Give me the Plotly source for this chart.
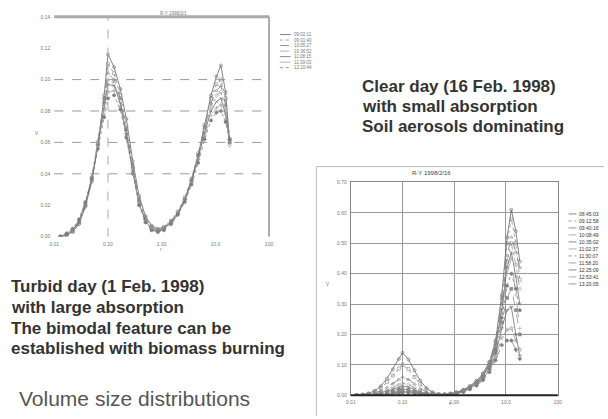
import plotly.graph_objects as go

# ---- data -------------------------------------------------------------
radius = [0.013, 0.017, 0.022, 0.029, 0.038, 0.05, 0.065, 0.085, 0.1, 0.13,
          0.17, 0.22, 0.29, 0.38, 0.5, 0.65, 0.85, 1.1, 1.5, 2.0,
          2.7, 3.6, 4.8, 6.3, 8.3, 10.5, 12.7, 15.5, 18.5]

# turbid day, 1 Feb 1998
left_labels = ["09:02:11", "09:31:40", "10:05:27", "10:36:52",
               "11:08:15", "11:39:03", "12:10:44"]
turbid_1 = [0.000, 0.001, 0.003, 0.008, 0.019, 0.035, 0.058, 0.090, 0.116, 0.108,
            0.094, 0.075, 0.048, 0.026, 0.013, 0.007, 0.005, 0.006, 0.010, 0.015,
            0.024, 0.036, 0.052, 0.070, 0.090, 0.102, 0.109, 0.092, 0.060]
turbid_2 = [0.000, 0.001, 0.004, 0.009, 0.020, 0.037, 0.060, 0.088, 0.110, 0.104,
            0.090, 0.070, 0.045, 0.024, 0.012, 0.006, 0.004, 0.006, 0.010, 0.016,
            0.025, 0.037, 0.053, 0.071, 0.088, 0.097, 0.100, 0.088, 0.062]
turbid_3 = [0.000, 0.001, 0.003, 0.009, 0.020, 0.036, 0.059, 0.086, 0.104, 0.100,
            0.088, 0.068, 0.044, 0.023, 0.011, 0.006, 0.004, 0.005, 0.009, 0.015,
            0.024, 0.036, 0.052, 0.069, 0.085, 0.093, 0.096, 0.084, 0.060]
turbid_4 = [0.000, 0.002, 0.004, 0.010, 0.021, 0.038, 0.060, 0.085, 0.100, 0.098,
            0.086, 0.066, 0.042, 0.022, 0.011, 0.005, 0.004, 0.005, 0.009, 0.015,
            0.024, 0.035, 0.051, 0.068, 0.083, 0.090, 0.092, 0.080, 0.058]
turbid_5 = [0.000, 0.001, 0.004, 0.010, 0.021, 0.037, 0.058, 0.082, 0.097, 0.096,
            0.085, 0.065, 0.041, 0.021, 0.010, 0.005, 0.003, 0.005, 0.009, 0.014,
            0.023, 0.035, 0.050, 0.066, 0.080, 0.086, 0.088, 0.078, 0.060]
turbid_6 = [0.000, 0.002, 0.005, 0.011, 0.022, 0.038, 0.058, 0.080, 0.092, 0.093,
            0.083, 0.064, 0.041, 0.021, 0.010, 0.005, 0.003, 0.005, 0.008, 0.014,
            0.023, 0.034, 0.049, 0.064, 0.077, 0.082, 0.084, 0.075, 0.061]
turbid_7 = [0.000, 0.002, 0.005, 0.011, 0.022, 0.037, 0.056, 0.076, 0.088, 0.090,
            0.081, 0.063, 0.040, 0.020, 0.009, 0.004, 0.003, 0.004, 0.008, 0.014,
            0.022, 0.033, 0.047, 0.062, 0.074, 0.079, 0.080, 0.073, 0.062]
left_series = [turbid_1, turbid_2, turbid_3, turbid_4, turbid_5, turbid_6, turbid_7]

# clear day, 16 Feb 1998
right_labels = ["08:45:03", "09:12:58", "09:40:16", "10:08:49", "10:35:02",
                "11:02:37", "11:30:07", "11:58:20", "12:25:09", "12:53:41",
                "13:20:05"]
clear_1 = [0.000, 0.002, 0.006, 0.015, 0.030, 0.055, 0.085, 0.120, 0.140, 0.118,
           0.082, 0.048, 0.024, 0.010, 0.004, 0.003, 0.006, 0.010, 0.018, 0.030,
           0.048, 0.072, 0.110, 0.180, 0.330, 0.520, 0.610, 0.540, 0.440]
clear_2 = [0.000, 0.002, 0.005, 0.012, 0.024, 0.043, 0.065, 0.088, 0.100, 0.086,
           0.060, 0.036, 0.018, 0.008, 0.003, 0.002, 0.005, 0.009, 0.017, 0.029,
           0.046, 0.070, 0.108, 0.175, 0.320, 0.500, 0.580, 0.500, 0.380]
clear_3 = [0.000, 0.001, 0.003, 0.008, 0.015, 0.026, 0.039, 0.052, 0.060, 0.052,
           0.037, 0.022, 0.011, 0.005, 0.002, 0.002, 0.004, 0.009, 0.017, 0.028,
           0.045, 0.068, 0.105, 0.170, 0.300, 0.460, 0.520, 0.470, 0.420]
clear_4 = [0.000, 0.001, 0.002, 0.005, 0.010, 0.017, 0.026, 0.035, 0.040, 0.035,
           0.025, 0.015, 0.008, 0.003, 0.002, 0.002, 0.004, 0.008, 0.016, 0.027,
           0.044, 0.066, 0.102, 0.165, 0.290, 0.440, 0.500, 0.430, 0.350]
clear_5 = [0.000, 0.001, 0.002, 0.004, 0.008, 0.013, 0.020, 0.026, 0.030, 0.027,
           0.019, 0.011, 0.006, 0.003, 0.001, 0.002, 0.004, 0.008, 0.015, 0.026,
           0.042, 0.064, 0.098, 0.160, 0.280, 0.420, 0.470, 0.390, 0.300]
clear_6 = [0.000, 0.000, 0.001, 0.003, 0.006, 0.011, 0.016, 0.022, 0.025, 0.022,
           0.016, 0.010, 0.005, 0.002, 0.001, 0.002, 0.004, 0.008, 0.015, 0.025,
           0.041, 0.062, 0.095, 0.155, 0.270, 0.400, 0.450, 0.330, 0.220]
clear_7 = [0.000, 0.000, 0.001, 0.002, 0.005, 0.009, 0.013, 0.018, 0.020, 0.018,
           0.013, 0.008, 0.004, 0.002, 0.001, 0.002, 0.003, 0.007, 0.014, 0.024,
           0.040, 0.060, 0.092, 0.150, 0.255, 0.360, 0.400, 0.350, 0.280]
clear_8 = [0.000, 0.000, 0.001, 0.002, 0.004, 0.007, 0.010, 0.013, 0.015, 0.013,
           0.010, 0.006, 0.003, 0.001, 0.001, 0.002, 0.003, 0.007, 0.013, 0.023,
           0.038, 0.057, 0.088, 0.142, 0.240, 0.320, 0.350, 0.280, 0.200]
clear_9 = [0.000, 0.000, 0.001, 0.002, 0.003, 0.005, 0.008, 0.011, 0.012, 0.011,
           0.008, 0.005, 0.002, 0.001, 0.001, 0.001, 0.003, 0.006, 0.012, 0.022,
           0.036, 0.055, 0.084, 0.135, 0.220, 0.280, 0.290, 0.200, 0.130]
clear_10 = [0.000, 0.000, 0.001, 0.001, 0.003, 0.004, 0.006, 0.009, 0.010, 0.009,
            0.006, 0.004, 0.002, 0.001, 0.001, 0.001, 0.003, 0.006, 0.012, 0.021,
            0.034, 0.052, 0.080, 0.125, 0.190, 0.215, 0.220, 0.180, 0.150]
clear_11 = [0.000, 0.000, 0.000, 0.001, 0.002, 0.003, 0.005, 0.007, 0.008, 0.007,
            0.005, 0.003, 0.002, 0.001, 0.000, 0.001, 0.003, 0.005, 0.011, 0.020,
            0.032, 0.050, 0.076, 0.115, 0.165, 0.180, 0.180, 0.150, 0.120]
right_series = [clear_1, clear_2, clear_3, clear_4, clear_5, clear_6, clear_7,
                clear_8, clear_9, clear_10, clear_11]

left_title = "R-Y 1998/2/1"
right_title = "R-Y 1998/2/16"
x_tick_vals = [0.01, 0.1, 1, 10, 100]
x_tick_text = ["0.01", "0.10", "1.00", "10.0", "100"]
left_y_ticks = [0, 0.02, 0.04, 0.06, 0.08, 0.10, 0.12, 0.14]
left_y_text = ["0.00", "0.02", "0.04", "0.06", "0.08", "0.10", "0.12", "0.14"]
left_dashed_levels = [0.04, 0.06, 0.08, 0.10]
right_y_ticks = [0, 0.1, 0.2, 0.3, 0.4, 0.5, 0.6, 0.7]
right_y_text = ["0.00", "0.10", "0.20", "0.30", "0.40", "0.50", "0.60", "0.70"]

clear_notes = ["Clear day (16 Feb. 1998)", "with small absorption",
               "Soil aerosols dominating"]
turbid_notes = ["Turbid day (1 Feb. 1998)", "with large absorption",
                "The bimodal feature can be", "established with biomass burning"]
caption = "Volume size distributions"

# ---- styling ----------------------------------------------------------
W, H = 608, 419
FONT = "Liberation Sans, Arial, sans-serif"


def fx(px):
    return px / W


def fy(py):
    return 1 - py / H


greys = ["#666", "#888", "#777", "#999", "#6e6e6e", "#a0a0a0", "#7c7c7c",
         "#8c8c8c", "#707070", "#9a9a9a", "#808080"]
dashes = ["solid", "dot", "dash", "dashdot", "solid", "longdash", "dot",
          "dash", "solid", "dashdot", "longdash"]
symbols = ["circle-open", "square-open", "triangle-up-open", "diamond-open",
           "x-thin-open", "cross-thin-open", "circle", "square", "triangle-down-open",
           "star-open", "diamond"]

fig = go.Figure()

for i, vals in enumerate(left_series):
    fig.add_trace(go.Scatter(
        x=radius, y=vals, xaxis="x", yaxis="y", mode="lines+markers",
        name=left_labels[i], showlegend=False,
        line=dict(color=greys[i], width=0.8, dash=dashes[i]),
        marker=dict(symbol=symbols[i], size=3, color=greys[i],
                    line=dict(width=0.6, color=greys[i])),
    ))

for i, vals in enumerate(right_series):
    fig.add_trace(go.Scatter(
        x=radius, y=vals, xaxis="x2", yaxis="y2", mode="lines+markers",
        name=right_labels[i], showlegend=False,
        line=dict(color=greys[i], width=0.8, dash=dashes[i]),
        marker=dict(symbol=symbols[i], size=3, color=greys[i],
                    line=dict(width=0.6, color=greys[i])),
    ))

tickfont = dict(family=FONT, size=5, color="#777")

fig.update_layout(
    width=W, height=H, margin=dict(l=0, r=0, t=0, b=0),
    paper_bgcolor="white", plot_bgcolor="white", showlegend=False,
    xaxis=dict(type="log", range=[-2, 2], domain=[fx(50), fx(268)], anchor="y",
               tickvals=x_tick_vals, ticktext=x_tick_text, tickfont=tickfont,
               showgrid=False, zeroline=False, showline=False, ticks="",
               ticklabelstandoff=3),
    yaxis=dict(range=[0, 0.14], domain=[fy(237), fy(14)], anchor="x",
               tickvals=left_y_ticks, ticktext=left_y_text, tickfont=tickfont,
               showgrid=False, zeroline=False, showline=False, ticks="",
               ticklabelstandoff=3),
    xaxis2=dict(type="log", range=[-2, 2], domain=[fx(351), fx(561)], anchor="y2",
                tickvals=x_tick_vals, ticktext=x_tick_text, tickfont=tickfont,
                showgrid=True, gridcolor="#9a9a9a", gridwidth=1,
                zeroline=False, showline=True, mirror=True, linecolor="#888",
                linewidth=1, ticks="", ticklabelstandoff=2),
    yaxis2=dict(range=[0, 0.7], domain=[fy(398), fy(182)], anchor="x2",
                tickvals=right_y_ticks, ticktext=right_y_text, tickfont=tickfont,
                showgrid=True, gridcolor="#9a9a9a", gridwidth=1,
                zeroline=False, showline=True, mirror=True, linecolor="#888",
                linewidth=1, ticks="", ticklabelstandoff=2),
)

shapes = []
# left panel frame: heavy top rule, right edge, dashed guides
shapes.append(dict(type="line", xref="x domain", yref="y domain",
                   x0=0, x1=1, y0=1, y1=1, line=dict(color="#aaa", width=3)))
shapes.append(dict(type="line", xref="x domain", yref="y domain",
                   x0=1, x1=1, y0=0, y1=1, line=dict(color="#aaa", width=2)))
shapes.append(dict(type="line", xref="x", yref="y domain",
                   x0=x_tick_vals[1], x1=x_tick_vals[1], y0=0, y1=1,
                   line=dict(color="#aaa", width=1, dash="dash")))
for lv in left_dashed_levels:
    shapes.append(dict(type="line", xref="x domain", yref="y",
                       x0=0, x1=1, y0=lv, y1=lv,
                       line=dict(color="#999", width=1, dash="dash")))
# right panel heavy baseline
shapes.append(dict(type="line", xref="x2 domain", yref="y2 domain",
                   x0=0, x1=1, y0=0, y1=0, line=dict(color="#222", width=2)))
# outer frame around the right panel
shapes.append(dict(type="line", xref="paper", yref="paper",
                   x0=fx(316), x1=1, y0=fy(166), y1=fy(166),
                   line=dict(color="#bbb", width=1)))
shapes.append(dict(type="line", xref="paper", yref="paper",
                   x0=fx(316), x1=fx(316), y0=fy(166), y1=0,
                   line=dict(color="#bbb", width=1)))

annotations = []
small = dict(family=FONT, size=4.5, color="#777")

# compact keys beside each panel
for i, lab in enumerate(left_labels):
    yy = fy(32 + i * 5.6)
    shapes.append(dict(type="line", xref="paper", yref="paper",
                       x0=fx(279), x1=fx(290), y0=yy, y1=yy,
                       line=dict(color=greys[i], width=0.8, dash=dashes[i])))
    annotations.append(dict(x=fx(291), y=yy, xref="paper", yref="paper",
                            text=lab, showarrow=False, xanchor="left",
                            yanchor="middle", font=small))
for i, lab in enumerate(right_labels):
    yy = fy(214 + i * 7.1)
    shapes.append(dict(type="line", xref="paper", yref="paper",
                       x0=fx(572), x1=fx(580), y0=yy, y1=yy,
                       line=dict(color=greys[i], width=0.8, dash=dashes[i])))
    annotations.append(dict(x=fx(581), y=yy, xref="paper", yref="paper",
                            text=lab, showarrow=False, xanchor="left",
                            yanchor="middle", font=dict(family=FONT, size=5,
                                                        color="#333")))

# panel titles and axis names
annotations.append(dict(x=fx(155), y=fy(6), xref="paper", yref="paper",
                        text=left_title, showarrow=False, font=small))
annotations.append(dict(x=fx(455), y=fy(172), xref="paper", yref="paper",
                        text=right_title, showarrow=False,
                        font=dict(family=FONT, size=6, color="#444")))
annotations.append(dict(x=fx(28), y=fy(128), xref="paper", yref="paper",
                        text="V", showarrow=False, font=small))
annotations.append(dict(x=fx(155), y=fy(250), xref="paper", yref="paper",
                        text="r", showarrow=False, font=small))
annotations.append(dict(x=fx(327), y=fy(290), xref="paper", yref="paper",
                        text="V", showarrow=False, font=small))
annotations.append(dict(x=fx(455), y=fy(411), xref="paper", yref="paper",
                        text="r", showarrow=False,
                        font=dict(family=FONT, size=5, color="#555")))

# descriptive notes
note_font = dict(family=FONT, size=17, color="#333", weight="bold")
for i, line in enumerate(clear_notes):
    annotations.append(dict(x=fx(360), y=fy(85 + i * 20), xref="paper",
                            yref="paper", text=line, showarrow=False,
                            xanchor="left", yanchor="middle", font=note_font))
for i, line in enumerate(turbid_notes):
    annotations.append(dict(x=fx(4), y=fy(288 + i * 21), xref="paper",
                            yref="paper", text=line, showarrow=False,
                            xanchor="left", yanchor="middle", font=note_font))
annotations.append(dict(x=fx(12), y=fy(401), xref="paper", yref="paper",
                        text=caption, showarrow=False, xanchor="left",
                        yanchor="middle",
                        font=dict(family=FONT, size=21, color="#555")))

fig.update_layout(shapes=shapes, annotations=annotations)
fig.write_html("out.html")
